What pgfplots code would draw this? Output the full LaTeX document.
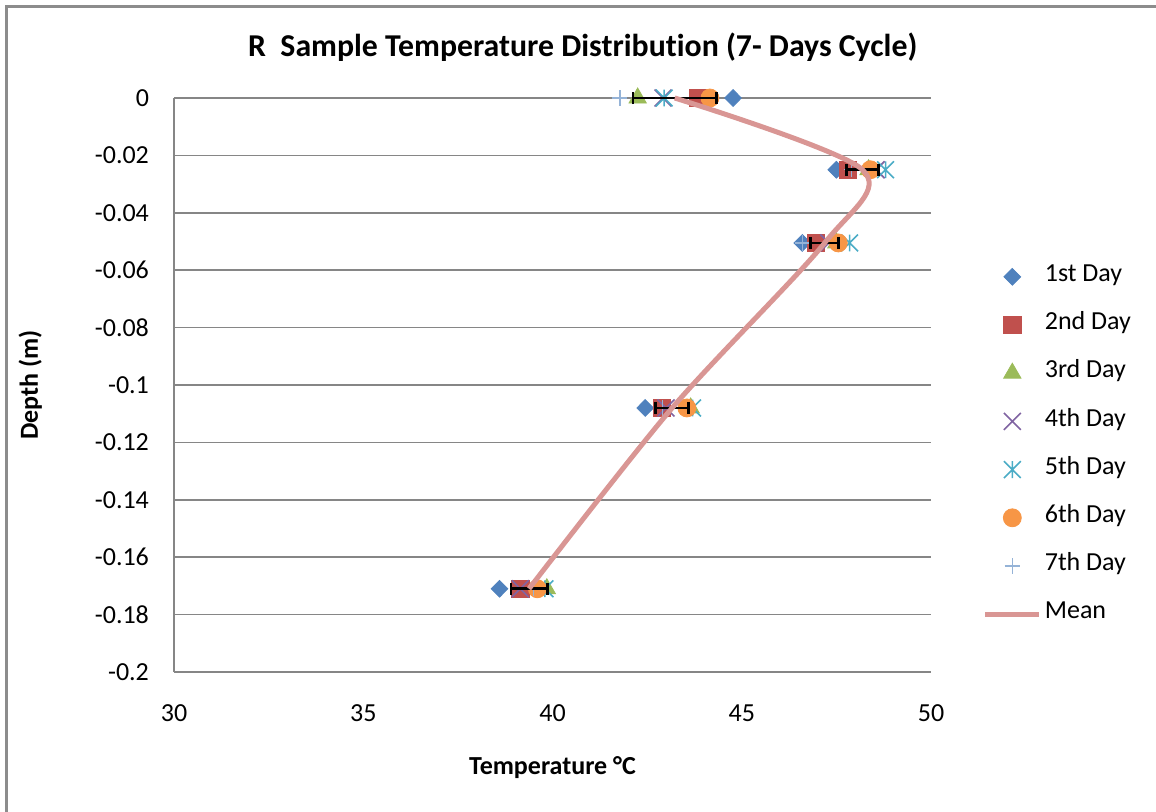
\documentclass[border=0pt]{standalone}
\usepackage{pgfplots}
\usepackage{pgfplotstable}
\pgfplotsset{compat=1.18}
\usepackage{fontspec}
\setmainfont{Carlito}[Ligatures=NoCommon]
\definecolor{cA}{HTML}{4F81BD}
\definecolor{cB}{HTML}{C0504D}
\definecolor{cC}{HTML}{9BBB59}
\definecolor{cD}{HTML}{8064A2}
\definecolor{cE}{HTML}{4BACC6}
\definecolor{cF}{HTML}{F79646}
\definecolor{cG}{HTML}{95B3D7}
\definecolor{cM}{HTML}{D99694}
\definecolor{gridgray}{HTML}{868686}
\definecolor{framegray}{HTML}{8C8C8C}
\pgfdeclareplotmark{xstar}{%
\pgfpathmoveto{\pgfqpoint{-\pgfplotmarksize}{-\pgfplotmarksize}}%
\pgfpathlineto{\pgfqpoint{\pgfplotmarksize}{\pgfplotmarksize}}%
\pgfpathmoveto{\pgfqpoint{-\pgfplotmarksize}{\pgfplotmarksize}}%
\pgfpathlineto{\pgfqpoint{\pgfplotmarksize}{-\pgfplotmarksize}}%
\pgfpathmoveto{\pgfqpoint{0pt}{-\pgfplotmarksize}}%
\pgfpathlineto{\pgfqpoint{0pt}{\pgfplotmarksize}}%
\pgfusepathqstroke}
\pgfplotstableread{
T D
44.77 0
47.50 -0.025
46.60 -0.0505
42.45 -0.108
38.60 -0.171
}\dayA
\pgfplotstableread{
T D
43.84 0
47.80 -0.025
46.95 -0.0505
42.90 -0.108
39.15 -0.171
}\dayB
\pgfplotstableread{
T D
42.25 0
48.35 -0.025
47.50 -0.0505
43.65 -0.108
39.85 -0.171
}\dayC
\pgfplotstableread{
T D
42.92 0
48.55 -0.025
47.30 -0.0505
43.00 -0.108
39.15 -0.171
}\dayD
\pgfplotstableread{
T D
42.95 0
48.80 -0.025
47.85 -0.0505
43.70 -0.108
39.80 -0.171
}\dayE
\pgfplotstableread{
T D
44.16 0
48.40 -0.025
47.55 -0.0505
43.55 -0.108
39.60 -0.171
}\dayF
\pgfplotstableread{
T D
41.78 0
47.90 -0.025
46.60 -0.0505
42.90 -0.108
39.50 -0.171
}\dayG
\pgfplotstableread{
T D E
43.23 0 1.10
48.19 -0.025 0.42
47.19 -0.0505 0.37
43.16 -0.108 0.44
39.38 -0.171 0.48
}\meanT
\pgfplotsset{
  myaxis/.style={
    at={(87pt,69.5pt)}, anchor=south west,
    scale only axis, width=378.5pt, height=287pt,
    xmin=30, xmax=50, ymin=-0.2, ymax=0,
  }
}
\begin{document}
\begin{tikzpicture}[x=1pt,y=1pt]
\useasboundingbox (0,0) rectangle (578,405.5);
\draw[framegray, line width=1.2pt] (3.2,-5) -- (3.2,402.3) -- (590,402.3);
\begin{axis}[
  myaxis,
  xtick={30,35,40,45,50},
  ytick={-0.2,-0.18,-0.16,-0.14,-0.12,-0.1,-0.08,-0.06,-0.04,-0.02,0},
  yticklabels={-0.2,-0.18,-0.16,-0.14,-0.12,-0.1,-0.08,-0.06,-0.04,-0.02,0},
  axis x line=bottom, axis y line=left,
  axis line style={-, draw=gridgray, line width=1pt},
  ymajorgrids, grid style={gridgray, line width=0.8pt},
  major tick length=0pt,
  /pgf/number format/assume math mode=true,
  tick label style={font=\fontsize{13}{15}\selectfont},
  xticklabel style={yshift=-13pt},
  yticklabel style={xshift=-9pt},
  xlabel={Temperature °C},
  xlabel style={font=\bfseries\fontsize{13}{15}\selectfont, at={(axis description cs:0.5,-0.167)}, anchor=center},
  ylabel={Depth (m)},
  ylabel style={font=\bfseries\fontsize{13}{15}\selectfont, at={(axis description cs:-0.19,0.5)}, anchor=center},
  title={R\ \ Sample Temperature Distribution (7- Days Cycle)},
  title style={font=\bfseries\fontsize{15.9}{18}\selectfont, at={(axis description cs:0.540,1.068)}, anchor=center},
  legend style={at={(1.060,0.3946)}, anchor=west, draw=none, fill=none,
    font=\fontsize{13}{15}\selectfont, row sep=11.4pt,
    nodes={inner sep=1.5pt, text height=0.72em, text depth=0.25em}},
  legend cell align=left,
  legend image code/.code={\draw[mark repeat=2,mark phase=2,#1] plot coordinates {(0pt,0pt) (13.5pt,0pt) (27pt,0pt)};},
  clip=false,
]
\addplot[only marks, mark=diamond*, mark size=4.2pt, mark options={xscale=1.33, draw=cA, fill=cA}] table[x=T,y=D]{\dayA};
\addlegendentry{1st Day}
\addplot[only marks, mark=square*, mark size=4.3pt, mark options={draw=cB, fill=cB}] table[x=T,y=D]{\dayB};
\addlegendentry{2nd Day}
\addplot[only marks, mark=triangle*, mark size=5pt, mark options={draw=cC, fill=cC}] table[x=T,y=D]{\dayC};
\addlegendentry{3rd Day}
\addplot[only marks, mark=x, mark size=6pt, mark options={draw=cD, line width=0.8pt}] table[x=T,y=D]{\dayD};
\addlegendentry{4th Day}
\addplot[only marks, mark=xstar, mark size=4.2pt, mark options={draw=cE, line width=0.8pt}] table[x=T,y=D]{\dayE};
\addlegendentry{5th Day}
\addplot[only marks, mark=*, mark size=4.5pt, mark options={draw=cF, fill=cF}] table[x=T,y=D]{\dayF};
\addlegendentry{6th Day}
\addplot[only marks, mark=+, mark size=3.8pt, mark options={draw=cG, line width=0.7pt}] table[x=T,y=D]{\dayG};
\addlegendentry{7th Day}
\addlegendimage{cM, line width=2.5pt, no markers}
\addlegendentry{Mean}
\end{axis}
\begin{axis}[myaxis, hide axis, clip=false]
\addplot[draw=none, no markers,
  error bars/.cd, x dir=both, x explicit, error mark=|,
  error bar style={black, line width=1.3pt},
  error mark options={black, mark size=3pt, line width=1.3pt}]
  table[x=T, y=D, x error=E]{\meanT};
\addplot[cM, line width=2.5pt, smooth, no markers] table[x=T, y=D]{\meanT};
\end{axis}
\end{tikzpicture}
\end{document}
